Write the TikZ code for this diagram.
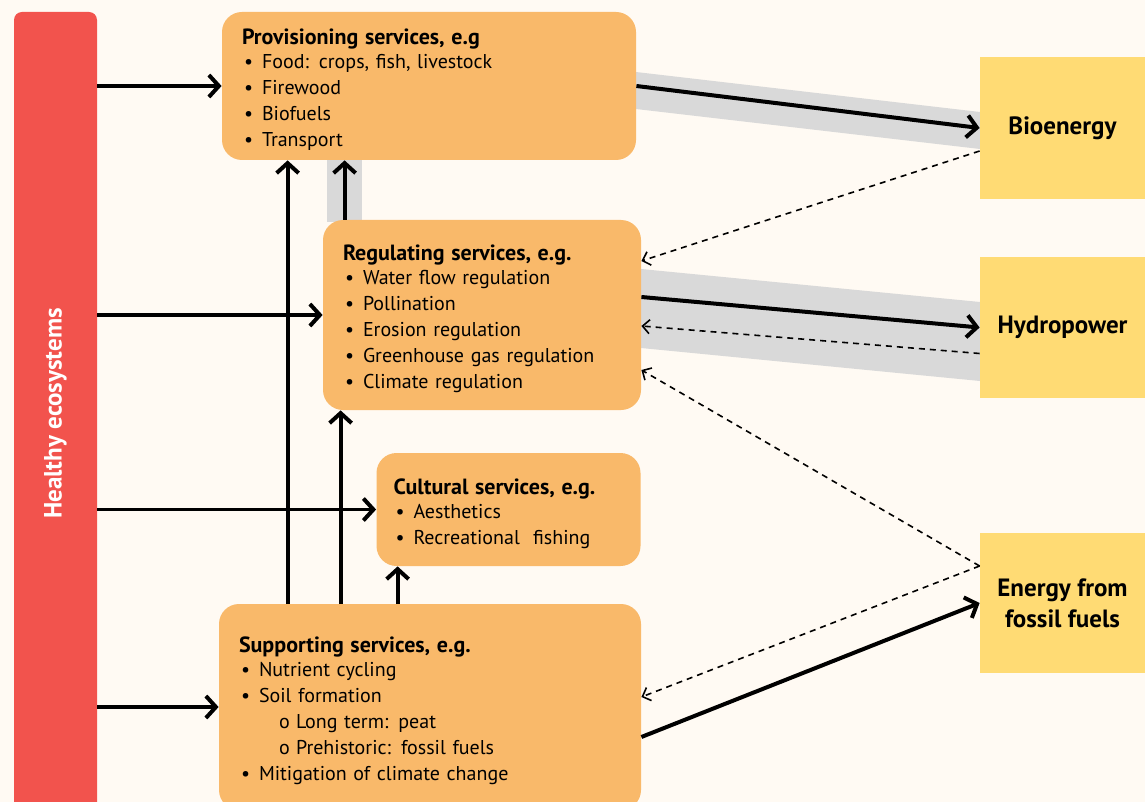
\documentclass[tikz,border=0pt]{standalone}
\usepackage{fontspec}
\setmainfont{PT Sans}
\usepackage{xcolor}
\usetikzlibrary{positioning,arrows.meta,calc,backgrounds}
\definecolor{canvas}{HTML}{FFFAF3}
\definecolor{ecored}{HTML}{F2534D}
\definecolor{serviceorange}{HTML}{F9B96A}
\definecolor{energyyellow}{HTML}{FFDB74}
\definecolor{bandgrey}{HTML}{D9D9D9}
\newcommand{\bul}{\makebox[10pt][l]{\hspace*{1pt}\textbullet}}
\newcommand{\subbul}{\hspace*{20pt}\makebox[8.5pt][l]{o}}
\newcommand{\boxtitle}[1]{{\fontsize{11}{13}\selectfont\bfseries\rule{0pt}{12pt}#1}}

\begin{document}
\begin{tikzpicture}[
  x=0.5pt, y=-0.5pt,
  every node/.style={font=\fontsize{10}{13}\selectfont},
  service/.style={rectangle, rounded corners=10pt, fill=serviceorange,
                  align=left, inner xsep=10pt, inner ysep=0pt},
  energy/.style={rectangle, fill=energyyellow, align=center, inner sep=0pt,
                 minimum width=82.5pt, font=\fontsize{12.5}{15.5}\selectfont\bfseries},
  flow/.style={-{Straight Barb[length=5pt,width=11pt,line width=2pt]}, line width=2pt},
  feed/.style={-{Straight Barb[length=3.5pt,width=7pt,line width=0.8pt]}, line width=0.8pt,
               dash pattern=on 3pt off 2.5pt},
  band/.style={fill=bandgrey}
]
  \useasboundingbox (0,0) rectangle (1145,802);
  \clip (0,0) rectangle (1145,802);
  \fill[canvas] (0,0) rectangle (1145,802);

  % grey bands behind the main flows
  \fill[band] (636,72) -- (980,112) -- (980,149) -- (636,109) -- cycle;
  \fill[band] (641,269) -- (980,302) -- (980,381) -- (641,348) -- cycle;
  \fill[band] (327,158) rectangle (362,222);

  \node[rectangle, rounded corners=4pt, fill=ecored, rotate=90, text=white,
        minimum width=401.5pt, minimum height=41.5pt, inner sep=0pt,
        font=\fontsize{12.5}{12.5}\selectfont\bfseries] (eco) at (55.5,413.5) {Healthy ecosystems};

  \node[service, text width=187pt, minimum height=74pt] (prov) at (429,86) {%
    \boxtitle{Provisioning services, e.g}\\[-1pt]
    \bul Food: crops, fish, livestock\\
    \bul Firewood\\
    \bul Biofuels\\
    \bul Transport};

  \node[service, text width=139pt, minimum height=95pt] (reg) at (482,315) {%
    \boxtitle{Regulating services, e.g.}\\[-1pt]
    \bul Water flow regulation\\
    \bul Pollination\\
    \bul Erosion regulation\\
    \bul Greenhouse gas regulation\\
    \bul Climate regulation};

  \node[service, text width=115pt, minimum height=56.5pt, inner xsep=8.5pt] (cult) at (508.5,509.5) {%
    \boxtitle{Cultural services, e.g.}\\[-1pt]
    \bul Aesthetics\\
    \bul Recreational~ fishing};

  \node[service, text width=191pt, minimum height=103pt] (supp) at (430,707) {%
    \boxtitle{Supporting services, e.g.}\\[-1pt]
    \bul Nutrient cycling\\
    \bul Soil formation\\
    \subbul Long term: peat\\
    \subbul Prehistoric: fossil fuels\\
    \bul Mitigation of climate change};

  \node[energy, minimum height=71pt] (bio) at (1062.5,128) {Bioenergy};
  \node[energy, minimum height=70.5pt] (hydro) at (1062.5,327.5) {Hydropower};
  \node[energy, minimum height=70pt] (fossil) at (1062.5,603) {Energy from\\fossil fuels};

  % ecosystems feed every service
  \draw[flow, line width=1.6pt] (eco.south |- prov.west) -- (prov.west);
  \draw[flow, line width=1.6pt] (eco.south |- reg.west) -- (reg.west);
  \draw[flow, line width=1.6pt] (eco.south |- cult.west) -- (cult.west);
  \draw[flow, line width=1.6pt] (eco.south |- supp.west) -- (supp.west);

  % supporting services underpin the others
  \coordinate (s1) at ([xshift=34.5pt]supp.north west);
  \coordinate (s2) at ([xshift=61pt]supp.north west);
  \coordinate (s3) at ([xshift=89.5pt]supp.north west);
  \coordinate (r1) at ([xshift=11pt]reg.north west);
  \draw[flow] (s1) -- (s1 |- prov.south);
  \draw[flow] (s2) -- (s2 |- reg.south);
  \draw[flow] (s3) -- (s3 |- cult.south);
  \draw[flow] (r1) -- (r1 |- prov.south);

  % energy flows
  \draw[flow] (prov.east) -- (bio.west);
  \draw[flow] ([yshift=9pt]reg.east) -- (hydro.west);
  \draw[flow] ([yshift=-15pt]supp.east) -- (fossil.west);

  % impacts back on the services
  \draw[feed] ([yshift=-11.5pt]bio.west) -- ([yshift=27pt]reg.east);
  \draw[feed] ([yshift=-13pt]hydro.west) -- ([yshift=-5.5pt]reg.east);
  \draw[feed] ([yshift=18.5pt]fossil.west) -- ([yshift=-27.5pt]reg.east);
  \draw[feed] ([yshift=18.5pt]fossil.west) -- ([yshift=5pt]supp.east);
\end{tikzpicture}
\end{document}
